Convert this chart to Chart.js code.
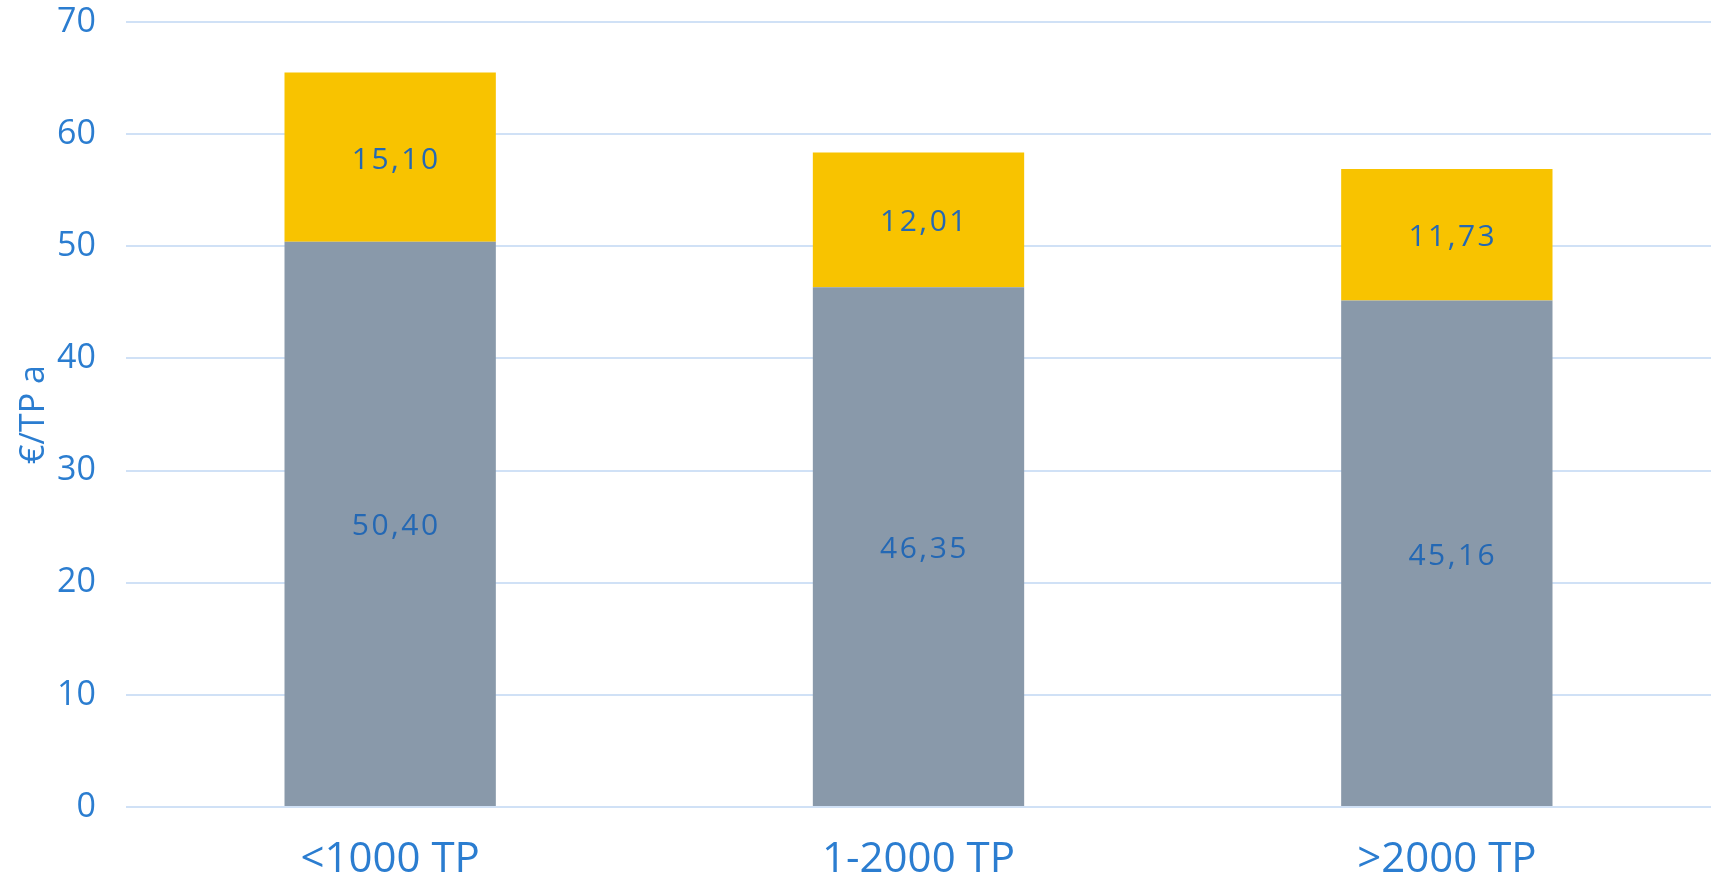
<!DOCTYPE html>
<html lang="de">
<head>
    <meta charset="UTF-8">
    <script src="https://cdn.jsdelivr.net/npm/chart.js"></script>
    <title>Kosten je TP</title>
    <style>
        html, body { margin: 0; padding: 0; background: #fff; }
        .wrap { width: 1711px; height: 874px; }
    </style>
</head>
<body>
    <div class="wrap">
        <canvas id="kostenChart" width="1711" height="874"></canvas>
    </div>
    <script>
        const kategorien = ['<1000 TP', '1-2000 TP', '>2000 TP'];
        const grundwerte = [50.40, 46.35, 45.16];
        const aufschlag = [15.10, 12.01, 11.73];
        const yTicks = [0, 10, 20, 30, 40, 50, 60, 70];

        const blau = 'rgb(43, 125, 208)';

        // Werte mittig in die Balkensegmente schreiben (Komma als Dezimalzeichen)
        const wertLabels = {
            id: 'wertLabels',
            afterDatasetsDraw(chart) {
                const ctx = chart.ctx;
                ctx.save();
                ctx.font = '30px "Open Sans"';
                ctx.fillStyle = 'rgb(36, 104, 180)';
                ctx.textAlign = 'center';
                ctx.textBaseline = 'middle';
                ctx.letterSpacing = '2.5px';
                chart.data.datasets.forEach((ds, i) => {
                    chart.getDatasetMeta(i).data.forEach((bar, j) => {
                        const txt = ds.data[j].toFixed(2).replace('.', ',');
                        ctx.fillText(txt, bar.x + 6, (bar.y + bar.base) / 2 + 3);
                    });
                });
                ctx.restore();
            }
        };

        const ctx = document.getElementById('kostenChart').getContext('2d');
        new Chart(ctx, {
            type: 'bar',
            data: {
                labels: kategorien,
                datasets: [{
                    data: grundwerte,
                    backgroundColor: 'rgb(137, 153, 170)',
                    barPercentage: 0.4,
                    categoryPercentage: 1
                }, {
                    data: aufschlag,
                    backgroundColor: 'rgb(248, 195, 0)',
                    barPercentage: 0.4,
                    categoryPercentage: 1
                }]
            },
            options: {
                responsive: false,
                animation: false,
                layout: { padding: { top: 22, right: 0, bottom: 0, left: 0 } },
                plugins: {
                    legend: { display: false },
                    tooltip: { enabled: false }
                },
                scales: {
                    x: {
                        stacked: true,
                        grid: { display: false, drawTicks: false },
                        border: { display: false },
                        ticks: {
                            color: blau,
                            font: { family: 'Open Sans', size: 42 },
                            padding: 28
                        },
                        afterFit(scale) {
                            scale.height = 67;
                            scale.paddingLeft = 0;
                            scale.paddingRight = 0;
                            scale.paddingTop = 0;
                            scale.paddingBottom = 0;
                        }
                    },
                    y: {
                        stacked: true,
                        min: 0,
                        max: 70,
                        afterBuildTicks(scale) {
                            scale.ticks = yTicks.map(v => ({ value: v }));
                        },
                        grid: { color: 'rgb(208, 225, 246)', lineWidth: 2, drawTicks: false },
                        border: { display: false },
                        ticks: {
                            color: blau,
                            font: { family: 'Open Sans', size: 34 },
                            padding: 30
                        },
                        title: {
                            display: true,
                            text: '€/TP a',
                            color: blau,
                            font: { family: 'Open Sans', size: 34 },
                            padding: { top: 14, bottom: 0 }
                        },
                        afterFit(scale) {
                            scale.width = 126;
                            scale.paddingTop = 0;
                            scale.paddingBottom = 0;
                        }
                    }
                }
            },
            plugins: [wertLabels]
        });
    </script>
</body>
</html>
